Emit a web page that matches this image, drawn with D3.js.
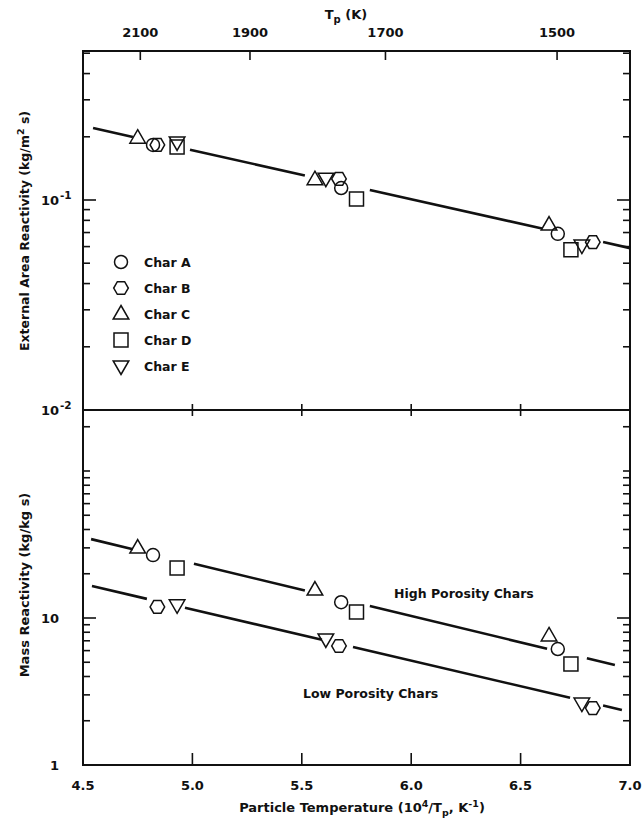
<!DOCTYPE html>
<html>
<head>
<meta charset="utf-8">
<script src="https://cdn.jsdelivr.net/npm/d3@7"></script>
<style>
  html, body { margin: 0; padding: 0; background: #fff; }
  svg text { font-family: "DejaVu Sans", sans-serif; font-weight: bold; fill: #111; }
</style>
</head>
<body>
<svg id="chart" width="644" height="821"></svg>
<script>
// ---------------- data ----------------
const charNames   = ["Char A", "Char B", "Char C", "Char D", "Char E"];
const charSymbols = ["circle", "hexagon", "triangle", "square", "triangleDown"];

// inverse particle temperature, 10^4 / Tp (1/K), three runs per char
const invTempA = [4.82, 5.68, 6.67];
const invTempB = [4.84, 5.67, 6.83];
const invTempC = [4.75, 5.56, 6.63];
const invTempD = [4.93, 5.75, 6.73];
const invTempE = [4.93, 5.61, 6.78];

// external area reactivity, kg/(m^2 s)
const areaA = [0.183, 0.114, 0.069];
const areaB = [0.183, 0.126, 0.063];
const areaC = [0.197, 0.125, 0.076];
const areaD = [0.179, 0.101, 0.058];
const areaE = [0.189, 0.127, 0.061];

// mass reactivity, kg/(kg s)
const massA = [26.8, 12.8, 6.15];
const massB = [11.9, 6.45, 2.44];
const massC = [29.9, 15.5, 7.55];
const massD = [21.9, 11.0, 4.86];
const massE = [12.3, 7.20, 2.64];

// correlation lines: end points and the stretches that are drawn between the markers
const areaFitX = [4.546, 7.0];
const areaFitY = [0.220, 0.059];
const areaFitSegments = [[4.546, 4.728], [4.989, 5.514], [5.811, 6.598], [6.877, 7.0]];

const highFitX = [4.537, 6.931];
const highFitY = [34.4, 4.79];
const highFitSegments = [[4.537, 4.728], [5.007, 5.514], [5.811, 6.621], [6.803, 6.931]];

const lowFitX = [4.541, 6.963];
const lowFitY = [16.5, 2.37];
const lowFitSegments = [[4.541, 4.792], [4.966, 5.592], [5.734, 6.726], [6.877, 6.963]];

// axis ticks
const xTicks    = [4.5, 5.0, 5.5, 6.0, 6.5, 7.0];
const tempTicks = [2100, 1900, 1700, 1500];
const areaLabelTicks = [[0.1, "-1"], [0.01, "-2"]];
const massLabelTicks = [[10, ""], [1, ""]];

// ---------------- layout ----------------
const plot = { left: 83, right: 630, top: 51, mid: 410, bottom: 765 };
const areaDecadePx = 210;
const massDecadePx = 147;

const svg = d3.select("#chart");

const x = d3.scaleLinear().domain([4.5, 7.0]).range([plot.left, plot.right]);
const yArea = d3.scaleLog().domain([0.01, 0.1]).range([plot.mid, plot.mid - areaDecadePx]);
const yMass = d3.scaleLog().domain([1, 10]).range([plot.bottom, plot.bottom - massDecadePx]);

const ink = "#111";

// ---------------- marker shapes ----------------
function symbolPath(type) {
  const p = d3.path();
  if (type === "circle") {
    p.moveTo(6.5, 0); p.arc(0, 0, 6.5, 0, 2 * Math.PI);
  } else if (type === "square") {
    p.rect(-7, -7, 14, 14);
  } else if (type === "triangle") {
    p.moveTo(0, -8.5); p.lineTo(7.8, 5); p.lineTo(-7.8, 5); p.closePath();
  } else if (type === "triangleDown") {
    p.moveTo(0, 8.5); p.lineTo(7.8, -5); p.lineTo(-7.8, -5); p.closePath();
  } else if (type === "hexagon") {
    for (let i = 0; i < 6; i++) {
      const a = i * Math.PI / 3;
      const px = 7.3 * Math.cos(a), py = 7.3 * Math.sin(a);
      if (i === 0) p.moveTo(px, py); else p.lineTo(px, py);
    }
    p.closePath();
  }
  return p.toString();
}

// ---------------- frame ----------------
svg.append("rect")
  .attr("x", plot.left).attr("y", plot.top)
  .attr("width", plot.right - plot.left).attr("height", plot.bottom - plot.top)
  .attr("fill", "none").attr("stroke", ink).attr("stroke-width", 2);
svg.append("line")
  .attr("x1", plot.left).attr("x2", plot.right)
  .attr("y1", plot.mid).attr("y2", plot.mid)
  .attr("stroke", ink).attr("stroke-width", 2);

// ---------------- log ticks on both vertical borders ----------------
function logTickValues(decades, scale, y0, y1) {
  const vals = [];
  decades.forEach(d => { for (let k = 1; k <= 9; k++) vals.push(d * k); });
  return vals.filter(v => {
    const py = scale(v);
    return py > y0 + 1 && py < y1 - 1;
  });
}
const areaTicks = logTickValues([0.01, 0.1], yArea, plot.top, plot.mid);
const massTicks = logTickValues([1, 10, 100], yMass, plot.mid, plot.bottom);

function drawSideTicks(values, scale, majors) {
  const g = svg.append("g").attr("stroke", ink).attr("stroke-width", 1.6);
  values.forEach(v => {
    const py = scale(v);
    const len = majors.includes(v) ? 13 : 7;
    g.append("line").attr("x1", plot.left).attr("x2", plot.left + len).attr("y1", py).attr("y2", py);
    g.append("line").attr("x1", plot.right).attr("x2", plot.right - len).attr("y1", py).attr("y2", py);
  });
}
drawSideTicks(areaTicks, yArea, [0.1]);
drawSideTicks(massTicks, yMass, [10]);

// ---------------- x ticks: bottom border, panel divider, top temperature scale ----------------
const xt = svg.append("g").attr("stroke", ink).attr("stroke-width", 1.6);
xTicks.slice(1, -1).forEach(v => {
  xt.append("line").attr("x1", x(v)).attr("x2", x(v)).attr("y1", plot.bottom).attr("y2", plot.bottom - 12);
  xt.append("line").attr("x1", x(v)).attr("x2", x(v)).attr("y1", plot.mid - 6).attr("y2", plot.mid + 6);
});
tempTicks.forEach(t => {
  const px = x(1e4 / t);
  xt.append("line").attr("x1", px).attr("x2", px).attr("y1", plot.top).attr("y2", plot.top + 9);
});

// ---------------- tick labels ----------------
svg.append("g").selectAll("text").data(xTicks).join("text")
  .attr("x", d => x(d)).attr("y", 790)
  .attr("text-anchor", "middle").attr("font-size", 13)
  .text(d => d.toFixed(1));

svg.append("g").selectAll("text").data(tempTicks).join("text")
  .attr("x", d => x(1e4 / d)).attr("y", 37)
  .attr("text-anchor", "middle").attr("font-size", 13)
  .text(d => d);

function drawLogLabel(value, exp, scale) {
  const py = scale(value);
  const base = value >= 1 ? String(value) : "10";
  svg.append("text").attr("x", 59).attr("y", py + 5)
    .attr("text-anchor", "end").attr("font-size", 13).text(base);
  if (exp) {
    svg.append("text").attr("x", 60).attr("y", py - 1)
      .attr("text-anchor", "start").attr("font-size", 10.5).text(exp);
  }
}
areaLabelTicks.forEach(([v, e]) => drawLogLabel(v, e, yArea));
massLabelTicks.forEach(([v, e]) => drawLogLabel(v, e, yMass));

// ---------------- axis titles ----------------
const topTitle = svg.append("text").attr("x", 346).attr("y", 19)
  .attr("text-anchor", "middle").attr("font-size", 13);
topTitle.append("tspan").text("T");
topTitle.append("tspan").attr("font-size", 10).attr("dy", 4).text("p");
topTitle.append("tspan").attr("dy", -4).text(" (K)");

const xTitle = svg.append("text").attr("x", 362).attr("y", 812)
  .attr("text-anchor", "middle").attr("font-size", 13);
xTitle.append("tspan").text("Particle Temperature (10");
xTitle.append("tspan").attr("font-size", 9.5).attr("dy", -5).text("4");
xTitle.append("tspan").attr("dy", 5).text("/T");
xTitle.append("tspan").attr("font-size", 9.5).attr("dy", 4).text("p");
xTitle.append("tspan").attr("dy", -4).text(", K");
xTitle.append("tspan").attr("font-size", 9.5).attr("dy", -5).text("-1");
xTitle.append("tspan").attr("dy", 5).text(")");

const areaTitle = svg.append("text")
  .attr("transform", "translate(29,231) rotate(-90)")
  .attr("text-anchor", "middle").attr("font-size", 12.5);
areaTitle.append("tspan").text("External Area Reactivity (kg/m");
areaTitle.append("tspan").attr("font-size", 9.5).attr("dy", -5).text("2");
areaTitle.append("tspan").attr("dy", 5).text(" s)");

svg.append("text")
  .attr("transform", "translate(29,585) rotate(-90)")
  .attr("text-anchor", "middle").attr("font-size", 13)
  .text("Mass Reactivity (kg/kg s)");

// ---------------- correlation lines ----------------
function fitValue(fx, fy, xv) {
  const t = (xv - fx[0]) / (fx[1] - fx[0]);
  const l0 = Math.log10(fy[0]), l1 = Math.log10(fy[1]);
  return Math.pow(10, l0 + t * (l1 - l0));
}
function drawFit(fx, fy, segments, yScale) {
  const line = d3.line().x(d => x(d)).y(d => yScale(fitValue(fx, fy, d)));
  svg.append("g").selectAll("path").data(segments).join("path")
    .attr("d", s => line(s))
    .attr("fill", "none").attr("stroke", ink).attr("stroke-width", 2.6);
}
drawFit(areaFitX, areaFitY, areaFitSegments, yArea);
drawFit(highFitX, highFitY, highFitSegments, yMass);
drawFit(lowFitX, lowFitY, lowFitSegments, yMass);

// ---------------- markers ----------------
const invTemps = [invTempA, invTempB, invTempC, invTempD, invTempE];
const areas    = [areaA, areaB, areaC, areaD, areaE];
const masses   = [massA, massB, massC, massD, massE];

function drawMarkers(valuesByChar, yScale) {
  const g = svg.append("g");
  charNames.forEach((name, i) => {
    g.selectAll(null).data(d3.zip(invTemps[i], valuesByChar[i])).join("path")
      .attr("d", symbolPath(charSymbols[i]))
      .attr("transform", d => `translate(${x(d[0])},${yScale(d[1])})`)
      .attr("fill", "none").attr("stroke", ink).attr("stroke-width", 1.5);
  });
}
drawMarkers(areas, yArea);
drawMarkers(masses, yMass);

// ---------------- legend ----------------
const legend = svg.append("g").attr("transform", "translate(121,262)");
charNames.forEach((name, i) => {
  const row = legend.append("g").attr("transform", `translate(0,${i * 26})`);
  row.append("path").attr("d", symbolPath(charSymbols[i]))
    .attr("fill", "none").attr("stroke", ink).attr("stroke-width", 1.5);
  row.append("text").attr("x", 23).attr("y", 5).attr("font-size", 12.5).text(name);
});

// ---------------- line annotations ----------------
svg.append("text").attr("x", 394).attr("y", 598).attr("font-size", 12.5).text("High Porosity Chars");
svg.append("text").attr("x", 303).attr("y", 698).attr("font-size", 12.5).text("Low Porosity Chars");
</script>
</body>
</html>
